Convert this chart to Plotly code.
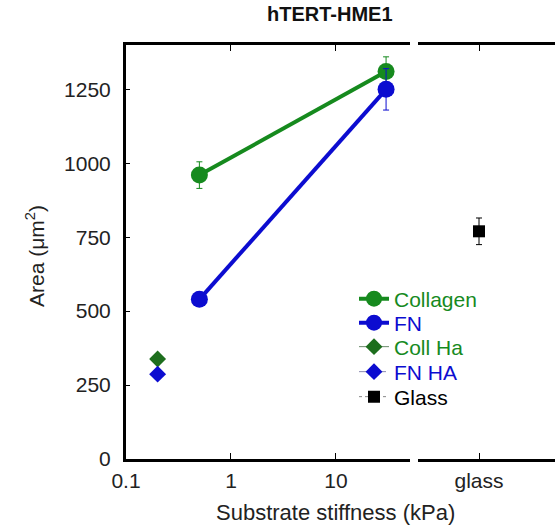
import plotly.graph_objects as go

# ---- data ----
stiffness = [0.5, 30]
collagen_area = [960, 1310]
collagen_err = [45, 50]
fn_area = [540, 1250]
fn_err = [15, 70]
ha_stiffness = [0.2]
coll_ha_area = [338]
fn_ha_area = [287]
glass_cat = ["glass"]
glass_area = [770]
glass_err = [45]

y_ticks = [0, 250, 500, 750, 1000, 1250]
x_ticks = [0.1, 1, 10]
x_ticktext = ["0.1", "1", "10"]

GREEN = "#168a1e"
DKGREEN = "#1d6e1d"
BLUE = "#0c0cd0"
FONT = "Liberation Sans, Arial, sans-serif"

fig = go.Figure()

fig.add_trace(go.Scatter(
    x=stiffness, y=collagen_area, mode="lines+markers",
    name="<span style='color:%s'>Collagen</span>" % GREEN,
    line=dict(color=GREEN, width=4),
    marker=dict(symbol="circle", size=17, color=GREEN),
    error_y=dict(type="data", array=collagen_err, color=GREEN, thickness=1, width=3),
    xaxis="x", yaxis="y", legend="legend"))
fig.add_trace(go.Scatter(
    x=stiffness, y=fn_area, mode="lines+markers",
    name="<span style='color:%s'>FN</span>" % BLUE,
    line=dict(color=BLUE, width=4),
    marker=dict(symbol="circle", size=17, color=BLUE),
    error_y=dict(type="data", array=fn_err, color=BLUE, thickness=1, width=3),
    xaxis="x", yaxis="y", legend="legend2"))
fig.add_trace(go.Scatter(
    x=ha_stiffness, y=coll_ha_area, mode="lines+markers",
    name="<span style='color:%s'>Coll Ha</span>" % GREEN,
    line=dict(color="#6a8a6a", width=1),
    marker=dict(symbol="diamond", size=13, color=DKGREEN),
    xaxis="x", yaxis="y", legend="legend3"))
fig.add_trace(go.Scatter(
    x=ha_stiffness, y=fn_ha_area, mode="lines+markers",
    name="<span style='color:%s'>FN HA</span>" % BLUE,
    line=dict(color="#8a8ab0", width=1, dash="dash"),
    marker=dict(symbol="diamond", size=13, color=BLUE),
    xaxis="x", yaxis="y", legend="legend4"))
fig.add_trace(go.Scatter(
    x=glass_cat, y=glass_area, mode="lines+markers",
    name="<span style='color:black'>Glass</span>",
    line=dict(color="#888888", width=1, dash="dot"),
    marker=dict(symbol="square", size=12, color="black"),
    error_y=dict(type="data", array=glass_err, color="black", thickness=1, width=3),
    xaxis="x2", yaxis="y", legend="legend5"))

L, R, T, B = 126, 0, 45, 69
W, H = 555, 528
pw = W - L - R
ph = H - T - B

def px(x):
    return (x - L) / pw

def py(y):
    return (H - B - y) / ph

axis_common = dict(showline=True, linecolor="black", linewidth=3, ticks="inside",
                   tickcolor="black", ticklen=6, tickwidth=1, showgrid=False,
                   zeroline=False, tickfont=dict(family=FONT, size=21, color="#222"))

legend_rows = [299, 323, 347, 372, 397]
legends = {}
for i, row in enumerate(legend_rows):
    key = "legend" if i == 0 else "legend%d" % (i + 1)
    legends[key] = dict(x=px(354), y=py(row), xanchor="left", yanchor="middle",
                        font=dict(family=FONT, size=21), bgcolor="rgba(0,0,0,0)",
                        itemwidth=30, borderwidth=0)

fig.update_layout(
    width=W, height=H,
    margin=dict(l=L, r=R, t=T, b=B),
    plot_bgcolor="white", paper_bgcolor="white",
    font=dict(family=FONT, color="#222"),
    showlegend=True,
    xaxis=dict(type="log", domain=[0, px(410)], range=[-1, 1.705],
               tickvals=x_ticks, ticktext=x_ticktext, mirror="ticks",
               ticklabelstandoff=1, anchor="y", **axis_common),
    xaxis2=dict(type="category", domain=[px(418), 1], range=[-1, 1.246],
                mirror="ticks", anchor="y", ticklabelstandoff=1, **axis_common),
    yaxis=dict(range=[0, 1400], tickvals=y_ticks, ticklen=4,
               ticklabelstandoff=8, mirror=False, anchor="x",
               **{k: v for k, v in axis_common.items() if k != "ticklen"}),
    annotations=[
        dict(text="<b>hTERT-HME1</b>", x=px(330), y=py(14), xref="paper", yref="paper",
             showarrow=False, font=dict(family=FONT, size=20, color="#111"),
             xanchor="center", yanchor="middle"),
        dict(text="Substrate stiffness (kPa)", x=px(335), y=py(512), xref="paper", yref="paper",
             showarrow=False, font=dict(family=FONT, size=22, color="#222"),
             xanchor="center", yanchor="middle"),
        dict(text="Area (μm<sup>2</sup>)", x=px(35), y=py(256), xref="paper", yref="paper",
             showarrow=False, textangle=-90, font=dict(family=FONT, size=21, color="#222"),
             xanchor="center", yanchor="middle"),
    ],
    **legends,
)

fig.write_html("out.html")
